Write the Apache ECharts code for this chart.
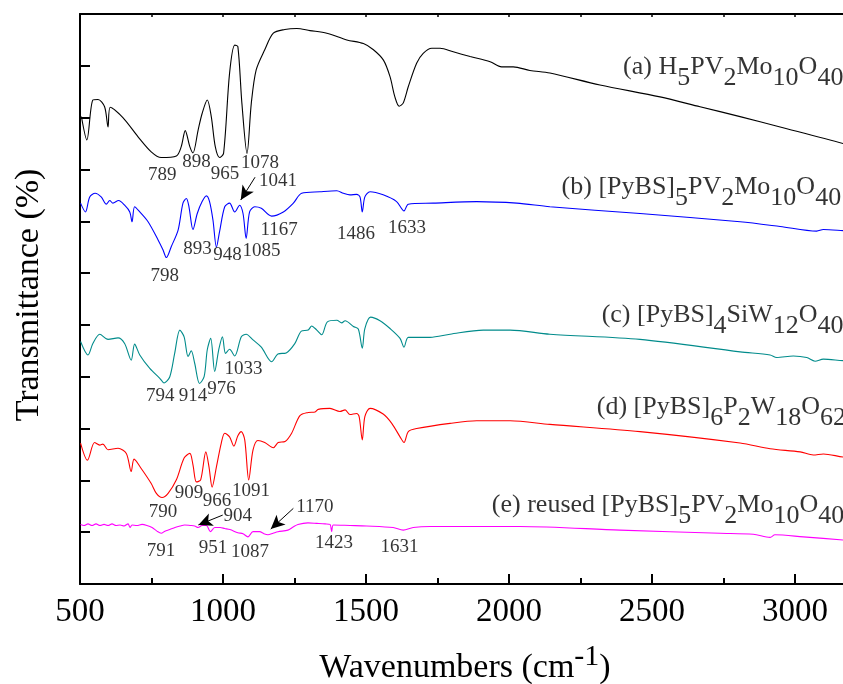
<!DOCTYPE html>
<html>
<head>
<meta charset="utf-8">
<script src="https://cdn.jsdelivr.net/npm/echarts/dist/echarts.min.js"></script>
<style>
  html, body { margin: 0; padding: 0; background: #ffffff; }
  #chart { width: 843px; height: 684px; }
</style>
</head>
<body>
<div id="chart"></div>
<script>
// FTIR spectra, stacked with vertical offsets (transmittance, arbitrary units)

// (a) H5PV2Mo10O40
const wnA = [505,524,545,563,586,598,606,650,703,749,784,837,854,868,884,895,913,927,945,959,973,988,1002,1023,1041,1052,1066,1084,1099,1116,1146,1176,1216,1258,1304,1363,1433,1491,1526,1561,1584,1601,1616,1630,1648,1677,1700,1730,1759,1805,1864,1934,1974,2015,2073,2143,2318,2528,2668,2808,2948,3168,3227];
const tA = [90.2,85.7,93.4,93.5,92.1,88.2,92.0,90.0,86.3,83.4,82.3,82.6,84.4,87.5,84.4,83.2,87.6,90.8,93.4,90.2,84.4,82.3,83.1,98.6,104.0,103.7,92.8,83.1,92.8,99.2,103.1,106.3,107.0,107.2,106.8,106.3,105.0,104.3,103.1,101.1,97.9,94.0,92.2,92.8,96.0,100.5,102.4,103.4,103.4,102.7,101.8,100.8,99.8,99.8,99.1,98.6,96.3,94.0,92.1,90.2,88.2,85.0,83.9];

// (b) [PyBS]5PV2Mo10O40
const wnB = [502,519,534,553,574,592,604,615,635,656,674,682,691,709,738,773,790,802,819,843,860,872,881,895,910,927,942,953,965,977,988,1006,1023,1041,1058,1070,1081,1093,1111,1134,1170,1211,1246,1275,1339,1398,1421,1444,1467,1479,1487,1496,1514,1560,1607,1633,1648,1735,1887,2027,2143,2458,2808,2948,3076,3099,3168,3227];
const tB = [73.5,71.8,74.7,75.4,74.7,73.3,74.0,73.5,74.0,73.1,71.8,69.9,72.8,71.8,69.9,66.4,64.5,63.0,65.1,68.3,73.5,74.4,72.8,68.4,71.5,73.8,74.9,73.8,70.2,65.0,68.0,72.8,73.5,71.8,73.1,71.5,66.7,71.8,72.8,72.5,71.0,71.8,73.5,75.4,75.7,75.9,75.4,75.1,75.2,74.7,71.8,74.7,75.7,75.1,73.8,72.0,73.3,73.5,73.8,73.5,72.8,71.5,69.9,69.0,68.1,68.4,68.2,68.0];

// (c) [PyBS]4SiW12O40
const wnC = [502,528,545,569,598,633,656,679,691,709,744,779,794,814,831,849,864,878,889,901,918,934,945,957,971,985,998,1009,1023,1041,1064,1081,1105,1134,1170,1192,1221,1251,1274,1298,1310,1328,1345,1365,1398,1415,1427,1456,1473,1487,1496,1516,1549,1584,1619,1633,1648,1724,1794,1910,2004,2143,2458,2808,2913,2936,2994,3041,3070,3099,3168,3227];
const tC = [46.8,44.2,46.4,48.2,47.2,47.5,46.4,43.2,46.3,44.2,41.6,39.7,38.8,40.0,44.5,49.0,47.7,43.9,45.0,42.6,38.7,40.0,45.2,47.4,41.0,45.2,47.7,44.5,45.3,44.0,47.7,48.2,47.1,45.7,42.9,44.4,44.6,46.4,48.8,49.0,49.8,49.0,48.1,50.6,50.9,50.4,50.8,49.7,49.2,45.5,49.3,51.5,50.8,49.3,47.4,45.7,47.6,47.6,48.2,49.0,49.0,48.2,47.2,44.8,44.2,43.7,44.0,43.7,43.0,43.4,43.1,43.0];

// (d) [PyBS]6P2W18O62
const wnD = [502,526,551,569,580,598,633,662,679,689,714,749,767,787,808,837,864,884,895,907,922,940,951,962,977,994,1006,1023,1038,1052,1064,1076,1090,1105,1122,1146,1176,1193,1217,1240,1269,1298,1322,1333,1374,1409,1427,1444,1467,1476,1487,1496,1514,1560,1590,1619,1633,1648,1677,1794,1887,2004,2143,2458,2808,2913,3018,3064,3099,3168,3227];
const tD = [27.2,23.9,27.3,26.8,27.0,25.9,26.2,25.2,21.7,24.1,22.3,19.4,17.5,16.7,17.5,20.1,24.3,25.2,23.0,19.7,20.1,25.5,22.6,18.7,22.6,27.2,29.1,28.4,26.6,28.6,29.4,27.8,20.1,25.9,27.7,27.3,26.3,27.3,27.5,29.1,32.5,33.1,33.2,33.7,33.9,33.3,33.6,32.7,32.9,32.3,27.8,32.3,33.9,32.8,31.0,28.4,27.3,29.4,30.0,31.0,31.5,31.5,30.8,29.4,27.2,26.1,25.5,24.9,25.1,24.5,24.3];

// (e) reused [PyBS]5PV2Mo10O40
const wnE = [502,514,528,542,556,570,584,598,612,626,640,654,668,675,682,699,717,734,752,769,784,797,814,832,850,866,885,901,913,927,942,956,971,990,1006,1024,1052,1070,1087,1105,1128,1143,1157,1175,1192,1227,1245,1262,1297,1328,1357,1374,1380,1386,1444,1502,1595,1630,1665,1724,2038,2388,2738,2854,2913,2930,3029,3168,3227];
const tE = [11.5,11.3,11.6,11.3,11.6,11.3,11.5,11.3,11.6,11.3,11.4,11.2,11.6,10.9,11.4,11.3,11.5,11.3,10.9,10.2,9.8,10.2,10.5,10.9,11.2,11.4,11.3,11.2,10.9,11.3,11.3,10.1,10.9,10.9,10.7,10.5,9.9,9.7,9.1,10.1,10.1,9.7,9.5,9.8,10.1,10.4,11.0,11.5,11.8,11.7,11.6,11.5,10.1,11.4,11.3,11.2,10.9,10.4,10.9,11.1,11.1,10.4,9.8,9.6,9.0,9.5,9.1,8.5,8.3];

// Peak assignments: text and anchor (wavenumber, transmittance) of each label
const peakText = ['789','898','965','1078','1041','1167','1486','1633','893','948','1085','798',
                  '794','914','976','1033','909','966','1091','790',
                  '904','1170','791','951','1087','1423','1631'];
const peakWn   = [788,907,1007,1129,1192,1196,1465,1643,911,1016,1135,796,
                  781,895,995,1072,881,979,1098,790,
                  1052,1321,783,965,1094,1388,1617];
const peakT    = [79.0,81.4,79.1,81.2,77.8,68.3,67.5,68.7,64.7,63.4,64.3,59.4,
                  36.2,36.2,37.7,41.5,17.6,16.0,17.9,13.8,
                  13.1,14.8,6.3,6.9,6.1,7.9,7.1];

// Pointer arrows: start and tip (wavenumber, transmittance)
const arrowFrom = [[1112,78.5],[999,13.3],[1246,14.6]];
const arrowTo   = [[1062,74.1],[914,11.4],[1167,10.6]];

// Sample names (rich-text markup, {s|..} = subscript) and their anchors
const sampleNames = [
  '(a) H{s|5}PV{s|2}Mo{s|10}O{s|40}',
  '(b) [PyBS]{s|5}PV{s|2}Mo{s|10}O{s|40}',
  '(c) [PyBS]{s|4}SiW{s|12}O{s|40}',
  '(d) [PyBS]{s|6}P{s|2}W{s|18}O{s|62}',
  '(e) reused [PyBS]{s|5}PV{s|2}Mo{s|10}O{s|40}'
];
const nameWn = [2399,2184,2324,2307,1940];
const nameT  = [99.8,76.6,51.9,34.1,15.2];

const FONT = '"Liberation Serif", "Times New Roman", serif';
const zip = (xs, ys) => xs.map((x, i) => [x, ys[i]]);

const spectra = [
  { wn: wnA, t: tA, color: '#000000' },
  { wn: wnB, t: tB, color: '#0000ff' },
  { wn: wnC, t: tC, color: '#008b8b' },
  { wn: wnD, t: tD, color: '#ff0000' },
  { wn: wnE, t: tE, color: '#ff00ff' }
];

const chart = echarts.init(document.getElementById('chart'), null, { renderer: 'canvas' });

const axisLineStyle = { color: '#000', width: 2 };

const series = spectra.map((s, i) => ({
  type: 'line',
  name: 'spectrum' + i,
  data: zip(s.wn, s.t),
  showSymbol: false,
  smooth: 0.3,
  lineStyle: { color: s.color, width: 1.1 },
  silent: true,
  z: 2
}));

series.push({
  type: 'scatter',
  name: 'peaks',
  symbolSize: 0,
  silent: true,
  data: peakText.map((t, i) => [peakWn[i], peakT[i], t]),
  label: {
    show: true,
    position: 'inside',
    formatter: p => p.data[2],
    fontFamily: FONT,
    fontSize: 19,
    color: '#000'
  },
  markLine: {
    silent: true,
    symbol: ['none', 'arrow'],
    symbolSize: [10, 14],
    label: { show: false },
    lineStyle: { color: '#000', width: 1, type: 'solid' },
    data: arrowFrom.map((f, i) => [{ coord: f }, { coord: arrowTo[i] }])
  },
  z: 5
});

series.push({
  type: 'scatter',
  name: 'samples',
  symbolSize: 0,
  silent: true,
  data: sampleNames.map((n, i) => [nameWn[i], nameT[i], n]),
  label: {
    show: true,
    position: 'inside',
    align: 'left',
    verticalAlign: 'middle',
    formatter: p => p.data[2],
    fontFamily: FONT,
    fontSize: 26,
    lineHeight: 26,
    color: '#000',
    rich: {
      s: { fontFamily: FONT, fontSize: 26, lineHeight: 26, color: '#000', padding: [22, 0, 0, 0] }
    }
  },
  z: 5
});

const option = {
  animation: false,
  backgroundColor: '#ffffff',
  grid: { left: 80, top: 14, width: 1001, height: 570, containLabel: false, outerBoundsMode: 'none' },
  xAxis: [
    {
      type: 'value', position: 'bottom', min: 500, max: 4000, interval: 500,
      axisLine: { show: true, lineStyle: axisLineStyle },
      axisTick: { show: true, inside: true, length: 10, lineStyle: axisLineStyle },
      minorTick: { show: true, splitNumber: 2, length: 6, lineStyle: axisLineStyle },
      axisLabel: { fontFamily: FONT, fontSize: 33, color: '#000', margin: 12, formatter: v => String(v) },
      splitLine: { show: false }
    },
    {
      type: 'value', position: 'top', min: 500, max: 4000, interval: 500,
      axisLine: { show: true, lineStyle: axisLineStyle },
      axisTick: { show: true, inside: true, length: 3, lineStyle: { color: '#000', width: 1.5 } },
      minorTick: { show: true, splitNumber: 2, length: 3, lineStyle: { color: '#000', width: 1.5 } },
      axisLabel: { show: false },
      splitLine: { show: false }
    }
  ],
  yAxis: {
    type: 'value', min: 0, max: 110, interval: 10,
    axisLine: { show: true, lineStyle: axisLineStyle },
    axisTick: { show: true, inside: true, length: 10, lineStyle: axisLineStyle },
    axisLabel: { show: false },
    splitLine: { show: false }
  },
  graphic: [
    {
      type: 'text',
      x: 29, y: 295,
      rotation: Math.PI / 2,
      style: {
        text: 'Transmittance (%)',
        fontFamily: FONT, fontSize: 34, fill: '#000',
        align: 'center', verticalAlign: 'middle'
      }
    },
    {
      type: 'text',
      x: 465, y: 668,
      style: {
        text: 'Wavenumbers (cm{sup|-1})',
        fontFamily: FONT, fontSize: 34, lineHeight: 34, fill: '#000',
        align: 'center', verticalAlign: 'middle',
        rich: {
          sup: { fontFamily: FONT, fontSize: 30, lineHeight: 34, fill: '#000', padding: [0, 0, 22, 0] }
        }
      }
    }
  ],
  series: series
};

chart.setOption(option);
</script>
</body>
</html>
